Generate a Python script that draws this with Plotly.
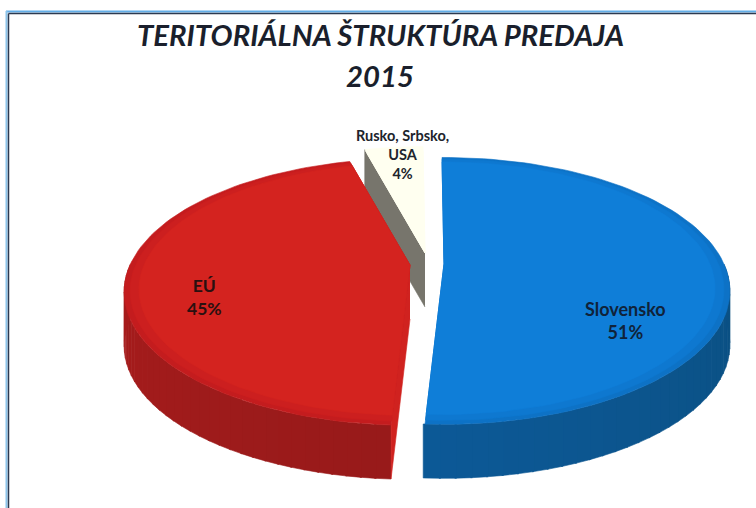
import math
import plotly.graph_objects as go

title_lines = ["TERITORIÁLNA ŠTRUKTÚRA PREDAJA", "2015"]
categories = ["Slovensko", "EÚ", "Rusko, Srbsko,<br>USA"]
values = [51, 45, 4]
top_shades = [["#0d72c6", "#0e78d0", "#0f7ed8"], ["#c41c1e", "#cc1f1f", "#d4231f"], ["#fffff0", "#fffff0", "#fffff0"]]
side_left = ["#0d62ac", "#a81c1c", "#77756c"]
side_right = ["#0b4f80", "#861818", "#77756c"]
wall_colors = [None, "#d0221f", "#77756c"]
centers = [(444, 264), (410, 265), (425, 253)]
label_pos = [(625, 320), (204, 297), (402, 154)]
label_sizes = [18, 17.5, 14.5]

ROT = -0.5
RX, RY, K, DEPTH = 280, 128, 0.2016, 54


def project(center, angle, radius=1.0):
    a = math.radians(angle)
    u, v = radius * math.sin(a), radius * math.cos(a)
    p = 1 / (1 + K * v)
    return center[0] + RX * u * p, center[1] - RY * v * p


def mix(c1, c2, t):
    a = [int(c1[i:i + 2], 16) for i in (1, 3, 5)]
    b = [int(c2[i:i + 2], 16) for i in (1, 3, 5)]
    return "#%02x%02x%02x" % tuple(round(x + (y - x) * t) for x, y in zip(a, b))


def poly(fig, pts, color):
    fig.add_trace(go.Scatter(x=[p[0] for p in pts], y=[p[1] for p in pts], mode="lines", fill="toself",
                             fillcolor=color, line=dict(color=color, width=0.6), hoverinfo="skip", showlegend=False))


def arc(center, a0, a1, radius=1.0, n=90):
    return [project(center, a0 + (a1 - a0) * i / n, radius) for i in range(n + 1)]


total = sum(values)
spans = []
start = ROT
for val in values:
    end = start + val / total * 360
    spans.append((start, end))
    start = end

fig = go.Figure()


def draw_slice(i):
    c, (a0, a1) = centers[i], spans[i]
    lo, hi = max(a0, 90), min(a1, 270)
    if hi > lo:
        n = 36
        for j in range(n):
            s0 = lo + (hi - lo) * j / n
            s1 = lo + (hi - lo) * (j + 1) / n + 0.3
            t = (s0 + s1 - 2 * 90) / 2 / 180
            col = mix(side_right[i], side_left[i], t)
            seg = arc(c, s0, s1, n=3)
            poly(fig, seg + [(x, y + DEPTH) for x, y in reversed(seg)], col)
    if wall_colors[i]:
        rim = project(c, a0)
        poly(fig, [c, rim, (rim[0], rim[1] + DEPTH), (c[0], c[1] + DEPTH)], wall_colors[i])
    for radius, col in zip((1.0, 0.98, 0.95), top_shades[i]):
        poly(fig, [c] + arc(c, a0, a1, radius) + [c], col)


for idx in (2, 0, 1):
    draw_slice(idx)

label_colors = ["#10233a", "#2a1010", "#20242c"]
annotations = []
for i, (x, y) in enumerate(label_pos):
    annotations.append(dict(x=x, y=y, xref="x", yref="y", showarrow=False, align="center",
                            text=f"<b>{categories[i]}<br>{values[i]}%</b>",
                            font=dict(family="Lato, Noto Sans, sans-serif", size=label_sizes[i], color=label_colors[i])))
annotations.append(dict(x=380, y=34, xref="x", yref="y", showarrow=False, text=f"<b><i>{title_lines[0]}</i></b>",
                        font=dict(family="Lato, sans-serif", size=29.3, color="#1a1f2c")))
annotations.append(dict(x=380, y=75, xref="x", yref="y", showarrow=False, text=f"<b><i>{title_lines[1]}</i></b>",
                        font=dict(family="Lato, sans-serif", size=29.3, color="#1a1f2c")))

shapes = [
    dict(type="line", xref="x", yref="y", x0=6, y0=11.5, x1=756, y1=11.5, line=dict(color="#62aee8", width=2)),
    dict(type="line", xref="x", yref="y", x0=6.5, y0=11, x1=6.5, y1=508, line=dict(color="#8cc4ea", width=2)),
    dict(type="line", xref="x", yref="y", x0=8.5, y0=13.5, x1=756, y1=13.5, line=dict(color="#2c3a50", width=1.5)),
    dict(type="line", xref="x", yref="y", x0=8.5, y0=13.5, x1=8.5, y1=508, line=dict(color="#2c3a50", width=1.5)),
]

fig.update_layout(
    width=756, height=508, margin=dict(l=0, r=0, t=0, b=0), paper_bgcolor="#ffffff", plot_bgcolor="#ffffff",
    xaxis=dict(range=[0, 756], visible=False, fixedrange=True),
    yaxis=dict(range=[508, 0], visible=False, fixedrange=True),
    showlegend=False, annotations=annotations, shapes=shapes,
)
fig.write_html("out.html", config={"displayModeBar": False},
               post_script="document.body.style.margin='0';document.body.style.overflow='hidden';")
